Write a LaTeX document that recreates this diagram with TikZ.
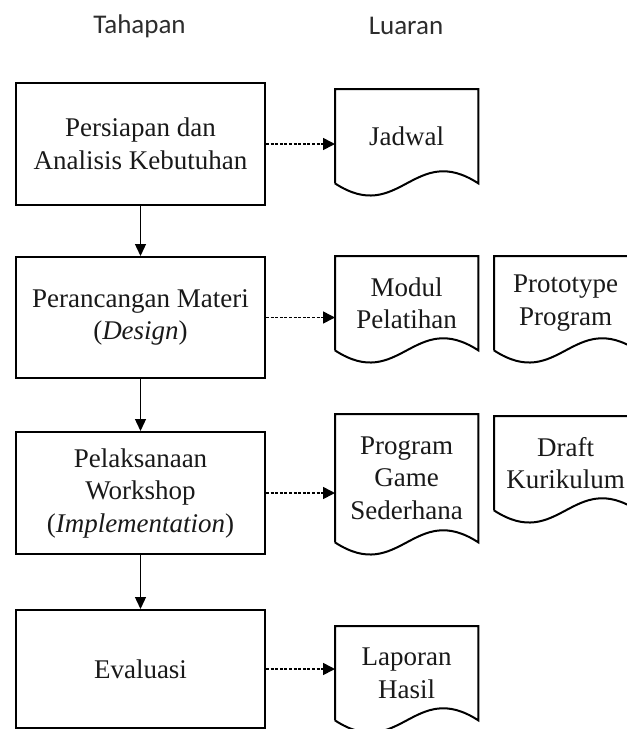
\documentclass[tikz,border=0pt]{standalone}
\usepackage{fontspec}
\setmainfont{Liberation Serif}
\newfontfamily\headfont{Carlito}
\usetikzlibrary{arrows.meta, calc, positioning}
\definecolor{linecol}{RGB}{0, 0, 0}
\definecolor{headcol}{RGB}{45, 45, 45}
\definecolor{textcol}{RGB}{25, 25, 25}
\tikzset{
  stage/.style  = {draw=linecol, line width=2pt, align=center, text=textcol,
                   font=\fontsize{27}{32.5}\selectfont, inner sep=0pt,
                   minimum width=249pt, minimum height=122pt, anchor=north west},
  docu/.style   = {align=center, text=textcol, inner sep=0pt,
                   font=\fontsize{27}{32.5}\selectfont,
                   minimum width=143pt, minimum height=94pt, anchor=north west},
  docline/.style = {draw=linecol, line width=2pt, line join=miter},
  hdr/.style    = {font=\headfont\fontsize{27}{32}\selectfont, text=headcol},
  next/.style   = {-{Triangle[length=12pt, width=11pt]}, draw=linecol,
                   line width=1.3pt},
  % the outputs are only produced, not passed on, hence the dotted line
  yield/.style  = {-{Triangle[length=12pt, width=12pt]}, draw=linecol,
                   line width=1.6pt, dash pattern=on 3pt off 1.6pt},
}

\begin{document}
\begin{tikzpicture}[x=1pt, y=-1pt]

  \useasboundingbox (0,0) rectangle (627,729);
  \clip (0,0) rectangle (627,729);

  %% ---------------- the two columns ----------------
  \node[hdr] (tahapan) at (139.5,26) {Tahapan};
  \node[hdr] (luaran)  at (406,26)   {Luaran};

  %% ---------------- the stages ----------------
  \node[stage] (p1) at (15,82)  {Persiapan dan\\Analisis Kebutuhan};
  \node[stage, minimum height=121pt] (p2) at (15,256)
       {Perancangan Materi\\(\textit{Design})};
  \node[stage] (p3) at (15,431)
       {Pelaksanaan\\Workshop\\(\textit{Implementation})};
  \node[stage, minimum height=118pt] (p4) at (15,609) {Evaluasi};

  \draw[next] (p1) -- (p2);
  \draw[next] (p2) -- (p3);
  \draw[next] (p3) -- (p4);

  %% ---------------- what each stage delivers ----------------
  \node[docu] (jadwal)  at (335,89)  {Jadwal};
  \node[docu] (modul)   at (335,256) {Modul\\Pelatihan};
  \node[docu] (proto)   at (494,256) {Prototype\\Program};
  \node[docu, minimum height=128pt] (game) at (335,414)
       {Program\\Game\\Sederhana};
  \node[docu] (draft)   at (494,416) {Draft\\Kurikulum};
  \node[docu] (laporan) at (335,626) {Laporan\\Hasil};

  % document outline: flat top, wavy bottom
  \foreach \d in {jadwal, modul, proto, game, draft, laporan} {
    \draw[docline] (\d.south west) -- (\d.north west) -- (\d.north east)
      -- (\d.south east)
      .. controls ($(\d.south west)!0.55!(\d.south east)+(0,42pt)$)
             and ($(\d.south west)!0.45!(\d.south east)+(0,-42pt)$)
      .. (\d.south west);
  }

  \draw[yield] (p1.east) -- (p1.east -| jadwal.west);
  \draw[yield] (p2.east) -- (p2.east -| modul.west);
  \draw[yield] (p3.east) -- (p3.east -| game.west);
  \draw[yield] (p4.east) -- (p4.east -| laporan.west);

\end{tikzpicture}
\end{document}
